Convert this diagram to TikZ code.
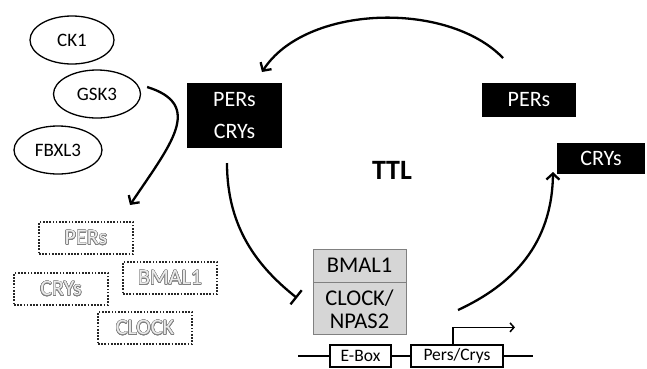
\documentclass[tikz,border=0pt]{standalone}
\usepackage{fontspec}
\setmainfont{Carlito}
\usepackage{contour}
\contourlength{0.45pt}
\contournumber{24}
\usetikzlibrary{shapes.geometric,arrows.meta}
\newcommand\outlinetext[1]{{\color{black!8}\contour{black!50}{#1}}}
\begin{document}
\begin{tikzpicture}[x=1bp,y=-1bp,
  enz/.style={draw, ellipse, line width=1.3bp, minimum width=84bp, minimum height=48bp, inner sep=0pt, font=\fontsize{19bp}{21bp}\selectfont},
  deg/.style={draw=black!85, dash pattern=on 1.7bp off 1.5bp, line width=1.7bp, minimum width=94bp, minimum height=32bp, inner sep=0pt, font=\fontsize{22bp}{24bp}\selectfont},
  blk/.style={fill=black, text=white, inner sep=0pt, font=\fontsize{22bp}{32bp}\selectfont, align=center},
  gbox/.style={draw=black!50, line width=0.8bp, fill=black!16, minimum width=93bp, inner sep=0pt, font=\fontsize{22.5bp}{23bp}\selectfont, align=center},
  gene/.style={draw, line width=1.3bp, fill=white, minimum height=22bp, inner sep=0pt, font=\fontsize{17.5bp}{18bp}\selectfont},
  loop/.style={line width=2.3bp},
  barb/.style={-{Straight Barb[length=6bp,width=13bp]}}
]
\useasboundingbox (0,0) rectangle (647,368);

% enzymes
\node[enz] (ck1) at (72,40) {CK1};
\node[enz, minimum width=87bp] (gsk3) at (97,94) {GSK3};
\node[enz, minimum width=88bp] (fbxl3) at (58,150) {FBXL3};

% degraded proteins
\node[deg] (dper) at (86,238) {\outlinetext{PERs}};
\node[deg] (dcry) at (61,289) {\outlinetext{CRYs}};
\node[deg] (dbmal) at (170,278) {\outlinetext{BMAL1}};
\node[deg] (dclock) at (145,328) {\outlinetext{CLOCK}};

% black boxes
\node[blk, minimum width=95bp, minimum height=65bp] (pc) at (234.5,115.5) {PERs\\CRYs};
\node[blk, minimum width=94bp, minimum height=34bp] (pers) at (529,100) {PERs};
\node[blk, minimum width=88bp, minimum height=31bp] (crys) at (601,158.5) {CRYs};

% TTL
\node[font=\fontsize{28bp}{30bp}\selectfont\bfseries] (ttl) at (392,170) {TTL};

% BMAL1 / CLOCK complex
\node[gbox, minimum height=33bp] (bmal) at (359.5,265.5) {BMAL1};
\node[gbox, minimum height=52bp, anchor=north] (clock) at (bmal.south) {CLOCK/\\NPAS2};

% DNA
\node[gene, minimum width=61bp] (ebox) at (360.5,356) {E-Box};
\node[gene, minimum width=92bp] (gene) at (457,356) {Pers/Crys};
\coordinate (dnaL) at (298,356);
\coordinate (dnaR) at (533,356);
\draw[line width=1.5bp] (dnaL) -- (ebox.west) (ebox.east) -- (gene.west) (gene.east) -- (dnaR);
\draw[line width=1.5bp, -{Straight Barb[length=4bp,width=9bp]}] (gene.north) ++(-4,0) -- ++(0,-17) -- ++(62,0);

% loop connectors
\coordinate (topS) at (503,58);
\coordinate (topE) at (262,72);
\draw[loop, barb] (topS) .. controls (447,0) and (305,5) .. (topE);

\coordinate (leftS) at (227,163);
\coordinate (leftE) at (297,298);
\draw[loop, -{Bar[width=18bp]}] (leftS) .. controls (227,228) and (258,267) .. (leftE);

\coordinate (rightS) at (458,310);
\coordinate (rightE) at (553,172);
\draw[loop, barb] (rightS) .. controls (512,285) and (552,245) .. (rightE);

% degradation arrow
\coordinate (degE) at (130,205);
\draw[loop, barb] (gsk3.east) ++(6,-7) .. controls (205,105) and (170,145) .. (degE);
\end{tikzpicture}
\end{document}
